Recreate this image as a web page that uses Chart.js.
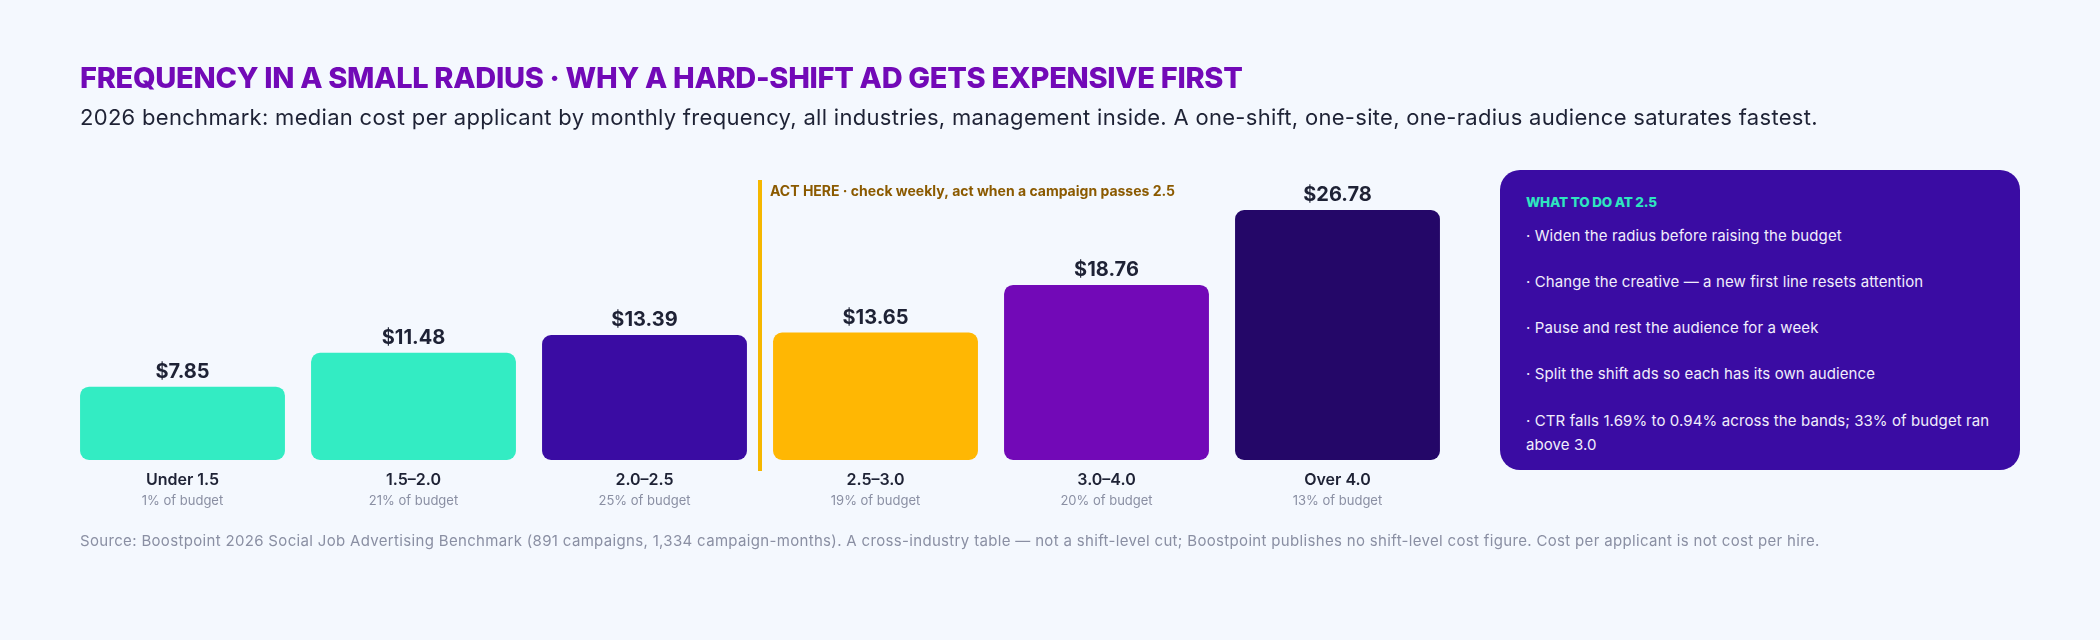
<!DOCTYPE html>
<html>
<head>
<meta charset="utf-8">
<script src="https://cdn.jsdelivr.net/npm/chart.js@4.4.0/dist/chart.umd.min.js"></script>
<style>
  html, body { margin: 0; padding: 0; background: #f4f8fe; }
  body { width: 2100px; height: 640px; position: relative; overflow: hidden; font-family: "Inter", "Noto Sans", sans-serif; }
  #wrap { position: absolute; left: 0; top: 0; width: 2100px; height: 640px; }
  .title { position: absolute; left: 80px; top: 60px; font-size: 29px; font-weight: 800; color: #7209b7; letter-spacing: -0.3px; }
  .sub { position: absolute; left: 80px; top: 104px; font-size: 22px; color: #1e2235; letter-spacing: 0.3px; }
  .source { position: absolute; left: 80px; top: 531px; font-size: 15px; color: #8a8fa3; letter-spacing: 0.33px; }
  .panel { position: absolute; left: 1500px; top: 170px; width: 520px; height: 300px; background: #3a0ca3; border-radius: 20px; box-sizing: border-box; padding: 24px 26px; }
  .panel h4 { margin: 0; font-size: 13.5px; font-weight: 800; color: #2ee6c0; letter-spacing: -0.2px; }
  .panel p { margin: 0; position: absolute; left: 26px; font-size: 15px; color: #f1eefc; line-height: 24px; letter-spacing: 0.1px; }
</style>
</head>
<body>
<div id="wrap"><canvas id="chart" width="2100" height="640"></canvas></div>
<div class="title">FREQUENCY IN A SMALL RADIUS · WHY A HARD-SHIFT AD GETS EXPENSIVE FIRST</div>
<div class="sub">2026 benchmark: median cost per applicant by monthly frequency, all industries, management inside. A one-shift, one-site, one-radius audience saturates fastest.</div>
<div class="panel">
  <h4>WHAT TO DO AT 2.5</h4>
  <p style="top:54px">· Widen the radius before raising the budget</p>
  <p style="top:100px">· Change the creative — a new first line resets attention</p>
  <p style="top:146px">· Pause and rest the audience for a week</p>
  <p style="top:192px">· Split the shift ads so each has its own audience</p>
  <p style="top:239px">· CTR falls 1.69% to 0.94% across the bands; 33% of budget ran<br>above 3.0</p>
</div>
<div class="source">Source: Boostpoint 2026 Social Job Advertising Benchmark (891 campaigns, 1,334 campaign-months). A cross-industry table — not a shift-level cut; Boostpoint publishes no shift-level cost figure. Cost per applicant is not cost per hire.</div>

<script>
// frequency bands and their median cost per applicant
const bands = ['Under 1.5', '1.5–2.0', '2.0–2.5', '2.5–3.0', '3.0–4.0', 'Over 4.0'];
const costPerApplicant = [7.85, 11.48, 13.39, 13.65, 18.76, 26.78];
const budgetShare = [1, 21, 25, 19, 20, 13];
const actAfterIndex = 2; // line goes after "2.0–2.5"
const actNote = 'ACT HERE · check weekly, act when a campaign passes 2.5';

const barColors = ['#33ecc3', '#33ecc3', '#3a0ca3', '#ffb703', '#7209b7', '#240768'];
const FONT = '"Inter", "Noto Sans", sans-serif';

// labels above / below bars + the act-here line
const barText = {
  id: 'barText',
  afterDatasetsDraw(chart) {
    const ctx = chart.ctx;
    const meta = chart.getDatasetMeta(0);
    const x = chart.scales.x;
    const area = chart.chartArea;
    ctx.save();
    ctx.textAlign = 'center';
    meta.data.forEach((bar, i) => {
      ctx.fillStyle = '#1e2235';
      ctx.font = '700 20px ' + FONT;
      ctx.textBaseline = 'alphabetic';
      ctx.fillText('$' + costPerApplicant[i].toFixed(2), bar.x, bar.y - 9);
      ctx.textBaseline = 'middle';
      ctx.font = '600 16px ' + FONT;
      ctx.fillText(bands[i], bar.x, area.bottom + 20);
      ctx.fillStyle = '#8a8fa3';
      ctx.font = '400 13px ' + FONT;
      ctx.fillText(budgetShare[i] + '% of budget', bar.x, area.bottom + 41);
    });
    const lx = (x.getPixelForValue(actAfterIndex) + x.getPixelForValue(actAfterIndex + 1)) / 2;
    ctx.strokeStyle = '#f5b700';
    ctx.lineWidth = 4;
    ctx.beginPath();
    ctx.moveTo(lx, area.top);
    ctx.lineTo(lx, area.bottom + 11);
    ctx.stroke();
    ctx.textAlign = 'left';
    ctx.textBaseline = 'middle';
    ctx.fillStyle = '#8b5a00';
    ctx.font = '700 14px ' + FONT;
    ctx.fillText(actNote, lx + 10, area.top + 12);
    ctx.restore();
  }
};

new Chart(document.getElementById('chart'), {
  type: 'bar',
  data: {
    labels: bands,
    datasets: [{
      data: costPerApplicant,
      backgroundColor: barColors,
      borderRadius: 9,
      borderSkipped: false,
      categoryPercentage: 1,
      barPercentage: 0.887
    }]
  },
  options: {
    responsive: false,
    devicePixelRatio: 1,
    animation: false,
    layout: { padding: { left: 67, right: 647, top: 180, bottom: 180 } },
    plugins: { legend: { display: false }, tooltip: { enabled: false } },
    scales: {
      x: { display: false },
      y: { display: false, min: 0, max: 30 }
    }
  },
  plugins: [barText]
});
</script>
</body>
</html>
